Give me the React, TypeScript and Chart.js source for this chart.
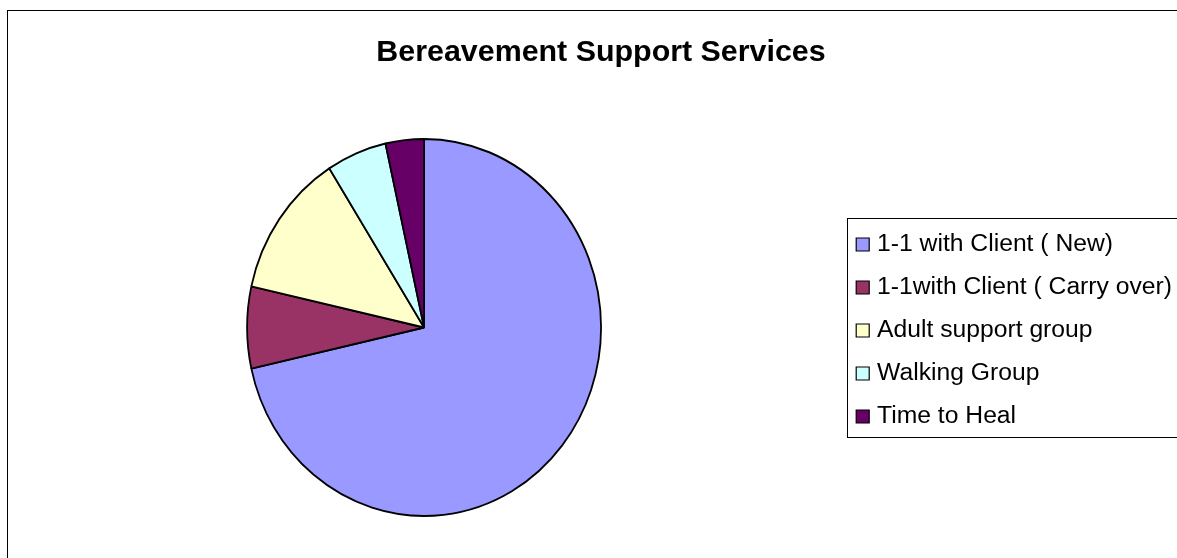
import React, { useEffect, useRef } from 'react';
import { Chart, ArcElement, PieController, Legend, Title } from 'chart.js';

Chart.register(ArcElement, PieController, Legend, Title);

const categories = [
  '1-1 with Client ( New)',
  '1-1with Client ( Carry over)',
  'Adult support group',
  'Walking Group',
  'Time to Heal',
];
const sessions = [143, 14, 25, 11, 7];
const sliceColors = ['#9999FF', '#993366', '#FFFFCC', '#CCFFFF', '#660066'];

const FONT = "'Liberation Sans', Arial, sans-serif";
// the original pie is a touch taller than it is wide
const PIE_STRETCH_Y = 188.5 / 177;

const ellipsePie = {
  id: 'ellipsePie',
  beforeDatasetsDraw(chart: any) {
    const { left, right, top, bottom } = chart.chartArea;
    const cx = (left + right) / 2;
    const cy = (top + bottom) / 2;
    const ctx = chart.ctx;
    ctx.save();
    ctx.translate(cx, cy);
    ctx.scale(1, PIE_STRETCH_Y);
    ctx.translate(-cx, -cy);
  },
  afterDatasetsDraw(chart: any) {
    chart.ctx.restore();
  },
};

// thin black frame round the legend, placed from the legend's own hit boxes
const legendFrame = {
  id: 'legendFrame',
  afterDraw(chart: any) {
    const boxes = chart.legend?.legendHitBoxes;
    if (!boxes || !boxes.length) return;
    const first = boxes[0];
    const last = boxes[boxes.length - 1];
    const ctx = chart.ctx;
    const left = Math.round(first.left - 13.5) + 0.5;
    const top = Math.round(first.top - 14.15) + 0.5;
    const bottom = Math.round(last.top + 32.85) + 0.5;
    ctx.save();
    ctx.strokeStyle = '#000';
    ctx.lineWidth = 1;
    ctx.strokeRect(left, top, chart.width - left + 40, bottom - top);
    ctx.restore();
  },
};

const BereavementPie: React.FC = () => {
  const canvasRef = useRef<HTMLCanvasElement | null>(null);

  useEffect(() => {
    const canvas = canvasRef.current;
    if (!canvas) return;

    const chart = new Chart(canvas, {
      type: 'pie',
      data: {
        labels: categories,
        datasets: [
          {
            data: sessions,
            backgroundColor: sliceColors,
            borderColor: '#000',
            borderWidth: 1.8,
            radius: 177,
            clip: false as any,
          },
        ],
      },
      options: {
        responsive: false,
        animation: false,
        events: [],
        layout: { padding: { left: 20, right: 0, top: 0, bottom: 15.74 } },
        plugins: {
          tooltip: { enabled: false },
          title: {
            display: true,
            text: 'Bereavement Support Services',
            color: '#000',
            font: { family: FONT, size: 30.4, weight: 'bold', lineHeight: 1.2 },
            padding: { top: 34.26, bottom: 0 },
          },
          legend: {
            position: 'right',
            align: 'start',
            fullSize: false,
            title: {
              display: true,
              text: '',
              font: { size: 10, lineHeight: 1 },
              padding: { top: 0, bottom: 118.86 },
            },
            labels: {
              color: '#000',
              font: { family: FONT, size: 24.7, lineHeight: '10.45px' },
              usePointStyle: true,
              boxWidth: 4,
              boxHeight: 13,
              padding: 32.55,
              generateLabels: (c: any) =>
                (c.data.labels as string[]).map((label, i) => ({
                  text: [label],
                  fillStyle: sliceColors[i],
                  strokeStyle: '#000',
                  lineWidth: 1.2,
                  pointStyle: 'rect',
                  hidden: false,
                  index: i,
                  fontColor: '#000',
                })),
            },
          },
        },
      } as any,
      plugins: [ellipsePie, legendFrame],
    });

    return () => {
      chart.destroy();
    };
  }, []);

  return <canvas ref={canvasRef} width={1182} height={600} style={{ position: 'absolute', left: 0, top: 0 }} />;
};

export default function App() {
  useEffect(() => {
    document.body.style.margin = '0';
  }, []);

  return (
    <div style={{ position: 'relative', width: 1177, height: 558, overflow: 'hidden', background: '#fff' }}>
      <div
        style={{
          position: 'absolute',
          left: 7,
          top: 10,
          width: 1300,
          height: 700,
          borderLeft: '1px solid #000',
          borderTop: '1px solid #000',
        }}
      />
      <BereavementPie />
    </div>
  );
}
